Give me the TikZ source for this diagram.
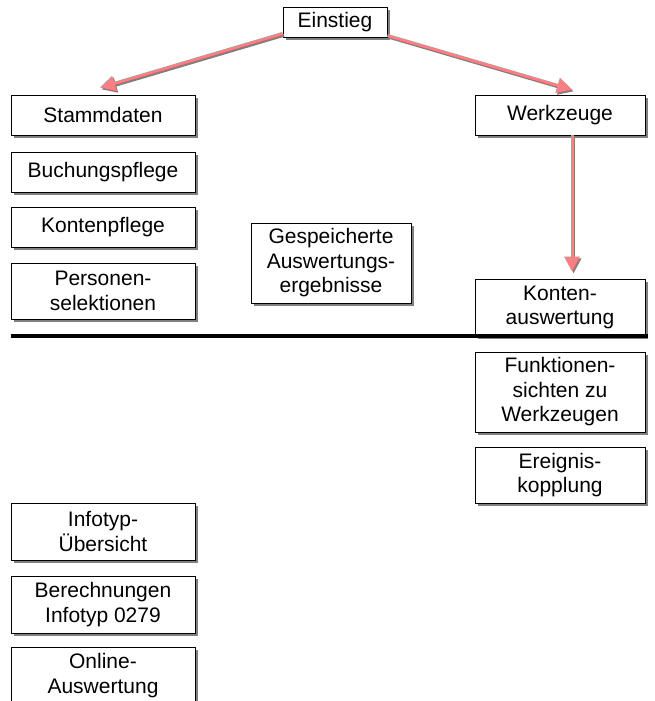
\documentclass[tikz,border=0pt]{standalone}
\usepackage{fontspec}
\setmainfont{Liberation Sans}
\usetikzlibrary{shadows,arrows.meta}
\definecolor{arrpink}{RGB}{246,128,132}
\definecolor{shadgray}{RGB}{128,128,128}
\tikzset{
  box/.style={draw=black, line width=0.9pt, fill=white, inner sep=0pt, align=center,
    font=\fontsize{21pt}{24.5pt}\selectfont,
    drop shadow={shadow xshift=3.2pt, shadow yshift=-3.2pt, fill=shadgray, opacity=1}},
  lbox/.style={box, minimum width=184pt},
  rbox/.style={box, minimum width=170pt},
  arrmain/.style={draw=arrpink, line width=3pt, -{Triangle[length=15pt,width=15pt]}},
  arrshad/.style={draw=shadgray, line width=3pt, -{Triangle[length=15pt,width=15pt]},
    transform canvas={shift={(1.6pt,-1.8pt)}}},
  sepline/.style={draw=black, line width=3.5pt}
}
\newcommand\shadarrow[2]{\draw[arrshad] #1 -- #2; \draw[arrmain] #1 -- #2;}
\begin{document}
\begin{tikzpicture}[x=1pt,y=-1pt]
\useasboundingbox[fill=white] (0,0) rectangle (654,701);
% top
\node[box, minimum width=104pt, minimum height=30pt] (ein) at (335,22) {Einstieg};
% left column
\node[lbox, minimum height=40pt] (stamm) at (103,115) {Stammdaten};
\node[lbox, minimum height=40pt] (buch) at (103,172) {Buchungspflege};
\node[lbox, minimum height=40pt] (konp) at (103,227) {Kontenpflege};
\node[lbox, minimum height=56pt] (pers) at (103,291) {Personen-\\selektionen};
\node[lbox, minimum height=57pt] (info) at (103,531.5) {Infotyp-\\Übersicht};
\node[lbox, minimum height=57pt] (berech) at (103,604.5) {Berechnungen\\Infotyp 0279};
\node[lbox, minimum height=57pt] (online) at (103,675.5) {Online-\\Auswertung};
% middle
\node[box, minimum width=160pt, minimum height=80pt] (gesp) at (331,263) {Gespeicherte\\Auswertungs-\\ergebnisse};
% right column
\node[rbox, minimum height=40pt] (werk) at (560,115) {Werkzeuge};
\node[rbox, minimum height=57pt] (kaus) at (560,307.5) {Konten-\\auswertung};
\node[rbox, minimum height=80pt] (funk) at (560,392) {Funktionen-\\sichten zu\\Werkzeugen};
\node[rbox, minimum height=56pt] (ereig) at (560,475) {Ereignis-\\kopplung};
% separator
\coordinate (sepL) at (11,336);
\coordinate (sepR) at (648,336);
\draw[sepline] (sepL) -- (sepR);
% arrows
\shadarrow{([yshift=4pt]ein.south west)}{([shift={(-3pt,7pt)}]stamm.north)}
\shadarrow{([yshift=2pt]ein.south east)}{([shift={(12pt,5pt)}]werk.north)}
\shadarrow{([xshift=12pt]werk.south)}{([shift={(12pt,7pt)}]kaus.north)}
\end{tikzpicture}
\end{document}
